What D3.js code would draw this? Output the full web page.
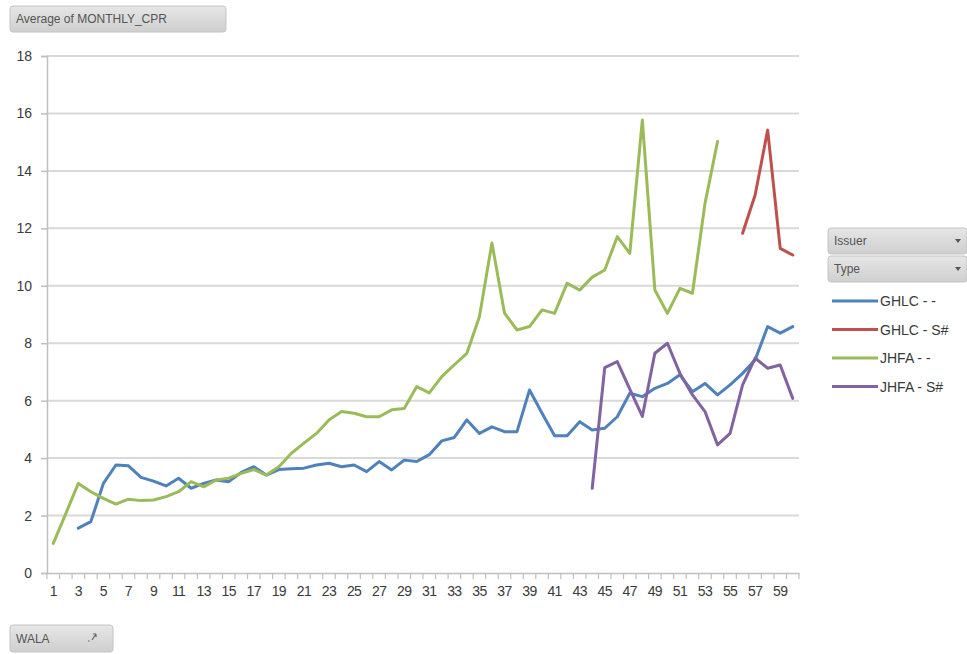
<!DOCTYPE html>
<html><head><meta charset="utf-8">
<script src="https://cdn.jsdelivr.net/npm/d3@7/dist/d3.min.js"></script>
<style>
body{margin:0;background:#fff;}
svg{display:block;font-family:"Liberation Sans","DejaVu Sans",sans-serif;}
</style></head>
<body><svg id="c" width="967" height="654"></svg>
<script>
const wala = [1,2,3,4,5,6,7,8,9,10,11,12,13,14,15,16,17,18,19,20,21,22,23,24,25,26,27,28,29,30,
  31,32,33,34,35,36,37,38,39,40,41,42,43,44,45,46,47,48,49,50,51,52,53,54,55,56,57,58,59,60];
const yTicks = [0,2,4,6,8,10,12,14,16,18];
const seriesNames = ["GHLC - -","GHLC - S#","JHFA - -","JHFA - S#"];
const seriesColors = ["#4F81BD","#C0504D","#9BBB59","#8064A2"];
const ghlcDash = [null,null,1.56,1.79,3.12,3.76,3.73,3.33,3.2,3.03,3.3,2.95,3.12,3.24,3.18,3.5,3.7,3.41,3.6,3.63,
  3.65,3.76,3.82,3.7,3.76,3.53,3.88,3.59,3.93,3.88,4.12,4.6,4.72,5.33,4.86,5.09,4.92,4.92,6.37,5.56,
  4.78,4.78,5.27,4.98,5.04,5.44,6.26,6.14,6.43,6.6,6.9,6.31,6.6,6.2,6.55,6.95,7.42,8.58,8.35,8.58];
const ghlcS = [null,null,null,null,null,null,null,null,null,null,null,null,null,null,null,null,null,null,null,null,
  null,null,null,null,null,null,null,null,null,null,null,null,null,null,null,null,null,null,null,null,
  null,null,null,null,null,null,null,null,null,null,null,null,null,null,null,11.83,13.16,15.42,11.3,11.07];
const jhfaDash = [1.03,2.07,3.12,2.83,2.6,2.4,2.57,2.52,2.54,2.66,2.83,3.18,3.0,3.24,3.3,3.47,3.6,3.41,3.7,4.17,
  4.52,4.86,5.33,5.62,5.56,5.44,5.44,5.68,5.73,6.49,6.27,6.84,7.25,7.65,8.92,11.49,9.05,8.46,8.58,9.16,
  9.04,10.09,9.85,10.3,10.55,11.71,11.13,15.77,9.85,9.04,9.91,9.74,12.87,15.02,null,null,null,null,null,null];
const jhfaS = [null,null,null,null,null,null,null,null,null,null,null,null,null,null,null,null,null,null,null,null,
  null,null,null,null,null,null,null,null,null,null,null,null,null,null,null,null,null,null,null,null,
  null,null,null,2.95,7.15,7.36,6.4,5.45,7.65,8.0,6.95,6.2,5.62,4.46,4.86,6.55,7.48,7.13,7.24,6.08];
const seriesValues = [ghlcDash, ghlcS, jhfaDash, jhfaS];

const svg = d3.select("#c");
const L = 47, R = 799, T = 56, B = 573;
const x = d3.scaleBand().domain(wala).range([L, R]);
const y = d3.scaleLinear().domain([0, 18]).range([B, T]);

// gridlines
svg.append("g").selectAll("line").data(yTicks.filter(d => d > 0)).join("line")
  .attr("x1", L).attr("x2", R).attr("y1", d => y(d)).attr("y2", d => y(d))
  .attr("stroke", "#d9d9d9").attr("stroke-width", 2);

// y axis
const yAxis = svg.append("g").attr("transform", `translate(${L},0)`)
  .call(d3.axisLeft(y).tickValues(yTicks).tickSize(6).tickPadding(9));
yAxis.select(".domain").attr("stroke", "#bfbfbf").attr("stroke-width", 1.5);
yAxis.selectAll(".tick line").attr("stroke", "#bfbfbf").attr("stroke-width", 1.5);
yAxis.selectAll("text").attr("font-size", 14).attr("fill", "#3a3a3a");

// x axis
const xAxis = svg.append("g").attr("transform", `translate(0,${B})`)
  .call(d3.axisBottom(x).tickValues(wala.filter(d => d % 2 === 1)).tickSize(0).tickPadding(13));
xAxis.select(".domain").attr("stroke", "#bfbfbf").attr("stroke-width", 1.5);
xAxis.selectAll("text").attr("font-size", 14).attr("fill", "#3a3a3a").attr("letter-spacing", "-0.6");
// tick marks at category boundaries
svg.append("g").selectAll("line").data(wala.concat([null])).join("line")
  .attr("x1", (d, i) => i < wala.length ? x(d) : R).attr("x2", (d, i) => i < wala.length ? x(d) : R)
  .attr("y1", B).attr("y2", B + 6).attr("stroke", "#bfbfbf").attr("stroke-width", 1.2);

// lines
const line = d3.line().defined(d => d.v !== null)
  .x(d => x(d.k) + x.bandwidth() / 2).y(d => y(d.v));
seriesValues.forEach((vals, si) => {
  svg.append("path").datum(wala.map((k, i) => ({k, v: vals[i]})))
    .attr("fill", "none").attr("stroke", seriesColors[si]).attr("stroke-width", 3)
    .attr("stroke-linejoin", "round").attr("stroke-linecap", "round")
    .attr("d", line);
});

// buttons
const defs = svg.append("defs");
const grad = defs.append("linearGradient").attr("id", "btn").attr("x1", 0).attr("x2", 0).attr("y1", 0).attr("y2", 1);
grad.append("stop").attr("offset", "0%").attr("stop-color", "#e6e6e6");
grad.append("stop").attr("offset", "100%").attr("stop-color", "#cfcfcf");
function button(x0, y0, w, h, label, arrow) {
  const g = svg.append("g");
  g.append("rect").attr("x", x0).attr("y", y0).attr("width", w).attr("height", h)
    .attr("rx", 3).attr("fill", "url(#btn)").attr("stroke", "#c4c4c4");
  g.append("text").attr("x", x0 + 6).attr("y", y0 + h / 2 + 4).attr("font-size", 12)
    .attr("fill", "#555").text(label);
  return g;
}
button(10, 6, 216, 26, "Average of MONTHLY_CPR");
const wb = button(10, 625, 103, 27, "WALA");
wb.append("path").attr("d", "M92,640 l4,-6 m0,0 l-3,0 m3,0 l0,3 M88,641 l1.5,0")
  .attr("stroke", "#666").attr("stroke-width", 1.2).attr("fill", "none");
const b1 = button(828, 228, 139, 26, "Issuer");
b1.append("path").attr("d", "M955,239 l6,0 l-3,4 z").attr("fill", "#555");
const b2 = button(828, 256, 139, 26, "Type");
b2.append("path").attr("d", "M955,267 l6,0 l-3,4 z").attr("fill", "#555");

// legend
const lg = svg.append("g").selectAll("g").data(seriesNames).join("g")
  .attr("transform", (d, i) => `translate(832,${301 + i * 28.5})`);
lg.append("line").attr("x1", 0).attr("x2", 46).attr("stroke", (d, i) => seriesColors[i]).attr("stroke-width", 3);
lg.append("text").attr("x", 48).attr("y", 5).attr("font-size", 14).attr("fill", "#3a3a3a").text(d => d);
</script></body></html>
